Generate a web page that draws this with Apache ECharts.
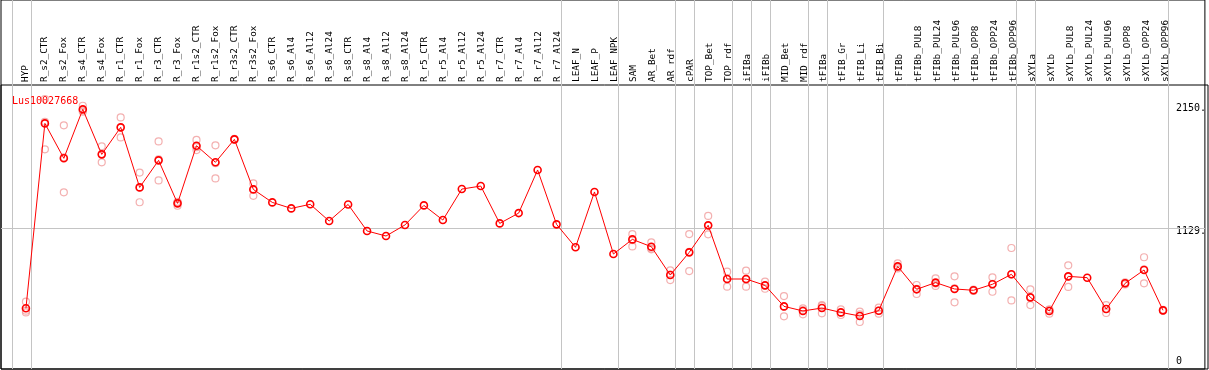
<!DOCTYPE html>
<html>
<head>
<meta charset="utf-8">
<script src="https://cdn.jsdelivr.net/npm/echarts@6/dist/echarts.min.js"></script>
<style>
html,body{margin:0;padding:0;background:#fff;}
#chart{width:1209px;height:370px;}
</style>
</head>
<body>
<div id="chart"></div>
<script>
const categories = ['HYP','R_s2_CTR','R_s2_Fox','R_s4_CTR','R_s4_Fox','R_r1_CTR','R_r1_Fox','R_r3_CTR','R_r3_Fox',
 'R_r1s2_CTR','R_r1s2_Fox','R_r3s2_CTR','R_r3s2_Fox','R_s6_CTR','R_s6_Al4','R_s6_Al12','R_s6_Al24',
 'R_s8_CTR','R_s8_Al4','R_s8_Al12','R_s8_Al24','R_r5_CTR','R_r5_Al4','R_r5_Al12','R_r5_Al24',
 'R_r7_CTR','R_r7_Al4','R_r7_Al12','R_r7_Al24','LEAF_N','LEAF_P','LEAF_NPK','SAM','AR_Bet','AR_rdf',
 'cPAR','TOP_Bet','TOP_rdf','iFIBa','iFIBb','MID_Bet','MID_rdf','tFIBa','tFIB_Gr','tFIB_Li','tFIB_Bi',
 'tFIBb','tFIBb_PUL8','tFIBb_PUL24','tFIBb_PUL96','tFIBb_OPP8','tFIBb_OPP24','tFIBb_OPP96',
 'sXYLa','sXYLb','sXYLb_PUL8','sXYLb_PUL24','sXYLb_PUL96','sXYLb_OPP8','sXYLb_OPP24','sXYLb_OPP96'];

const meanValues = [463,2003,1712,2120,1745,1970,1470,1695,1337,1817,1679,1870,1453,1345,1295,1329,1190,
 1328,1107,1065,1157,1320,1198,1456,1481,1170,1256,1615,1162,971,1432,915,1037,976,740,
 929,1154,707,707,654,479,441,465,429,399,443,812,621,677,624,613,663,746,
 554,441,729,718,457,671,782,446];

const rep1 = [518,2206,1987,2150,1812,2053,1593,1853,1350,1865,1820,1875,1503,null,null,null,null,
 null,null,null,null,null,null,null,null,null,null,null,null,null,null,null,1080,1012,779,
 1081,1232,768,776,685,565,463,490,454,435,468,837,657,713,729,618,721,965,
 621,418,821,null,490,680,888,450];
const rep2 = [443,1787,1429,2100,1679,1886,1346,1528,1317,1781,1545,1866,1400,null,null,null,null,
 null,null,null,null,null,null,null,null,null,null,null,null,null,null,null,978,954,698,
 773,1079,643,643,626,396,413,421,407,349,418,795,582,649,513,608,601,529,
 490,452,641,null,424,662,671,442];
const rep3 = [429,2016,1720,2110,1745,1970,1470,1704,1344,1805,1672,1870,1456,null,null,null,null,
 null,null,null,null,null,null,null,null,null,null,null,null,null,null,null,1030,962,743,
 933,1151,710,702,651,476,447,484,426,413,443,804,624,669,630,613,667,744,
 551,453,725,null,457,671,787,446];

const yTickValues = [0, 1129, 2150];
const refLineValue = 1129;
const groupEnds = [-1, 0, 28, 31, 34, 35, 37, 38, 39, 41, 42, 45, 52, 53, 60];

const FONT = 'DejaVu Sans Mono';
const sepOffset = 0.26;

const meanData = meanValues.map((v, i) => [i, v]);
const repData = [];
[rep1, rep2, rep3].forEach(arr => arr.forEach((v, i) => { if (v !== null) repData.push([i, v]); }));

const markData = groupEnds.map(g => ({ xAxis: g + sepOffset, lineStyle: { color: '#c4c4c4', width: 1, type: 'solid' } }));
markData.push({ yAxis: refLineValue, lineStyle: { color: '#c4c4c4', width: 1, type: 'solid' } });

const chart = echarts.init(document.getElementById('chart'), null, { renderer: 'canvas' });
chart.setOption({
  animation: false,
  backgroundColor: '#fff',
  title: {
    text: 'Lus10027668', left: 7, top: 91,
    textStyle: { color: '#ff0000', fontSize: 10, fontWeight: 'normal', fontFamily: FONT }
  },
  grid: [
    { left: 1, right: 1, top: 0, bottom: 1, show: true, borderColor: '#000', borderWidth: 1, backgroundColor: 'transparent' },
    { left: 16.5, width: 1159, top: 85, bottom: 1, show: false },
    { left: 1, right: 1, top: 85, bottom: 1, show: true, borderColor: '#000', borderWidth: 1, backgroundColor: 'transparent' }
  ],
  xAxis: [
    { gridIndex: 0, type: 'value', min: -1.3158, max: 62.2105, show: false },
    { gridIndex: 1, type: 'category', data: categories, position: 'top', boundaryGap: true,
      axisLine: { show: false }, axisTick: { show: false }, splitLine: { show: false },
      axisLabel: { rotate: 90, margin: 3, interval: 0, color: '#000', fontSize: 9.4, fontFamily: FONT } },
    { gridIndex: 2, type: 'value', min: 0, max: 1, show: false }
  ],
  yAxis: [
    { gridIndex: 0, type: 'value', min: -42.5, max: 3030.5, position: 'right',
      axisLine: { show: false }, axisTick: { show: false }, splitLine: { show: false },
      axisLabel: { inside: true, customValues: yTickValues, align: 'left', margin: 29,
        verticalAlign: 'middle', color: '#000', fontSize: 10, fontFamily: FONT,
        formatter: v => v === 0 ? '{z|0}' : '{u|' + v + '.}',
        rich: {
          u: { color: '#000', fontSize: 10, fontFamily: FONT, padding: [6, 0, 0, 0] },
          z: { color: '#000', fontSize: 10, fontFamily: FONT, padding: [0, 0, 4, 0] }
        } } },
    { gridIndex: 1, type: 'value', min: 0, max: 1, show: false },
    { gridIndex: 2, type: 'value', min: 0, max: 1, show: false }
  ],
  series: [
    { type: 'scatter', xAxisIndex: 0, yAxisIndex: 0, data: repData, symbol: 'circle', symbolSize: 7,
      itemStyle: { color: 'rgba(255,255,255,0)', borderColor: '#f09c9c', borderWidth: 1.2 }, z: 2,
      markLine: { silent: true, symbol: 'none', label: { show: false }, data: markData, z: 1 } },
    { type: 'line', xAxisIndex: 0, yAxisIndex: 0, data: meanData, symbol: 'circle', symbolSize: 7,
      lineStyle: { color: '#ff0000', width: 1 }, itemStyle: { color: 'rgba(255,255,255,0)', borderColor: '#ff0000', borderWidth: 1.6 }, z: 3 }
  ]
});
</script>
</body>
</html>
